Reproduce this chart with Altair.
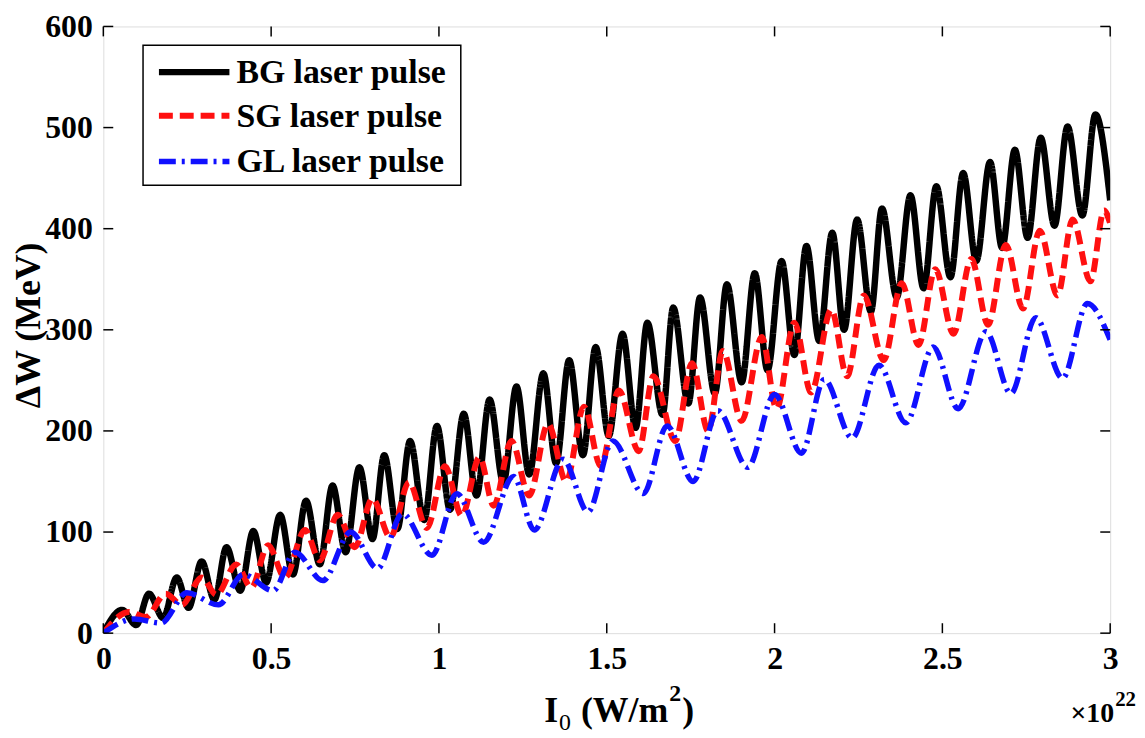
import altair as alt
import pandas as pd

# ---------------- data (x in 1e22 W/m^2, y in MeV) ----------------
# BG laser pulse (black, solid)
bg_peak_x = [0.056, 0.136, 0.219, 0.293, 0.367, 0.447, 0.527, 0.604, 0.683, 0.763,
             0.837, 0.914, 0.994, 1.074, 1.151, 1.231, 1.311, 1.388, 1.467, 1.547,
             1.621, 1.698, 1.778, 1.858, 1.941, 2.021, 2.095, 2.172, 2.246, 2.320,
             2.405, 2.482, 2.562, 2.642, 2.716, 2.793, 2.873, 2.956]
bg_peak_y = [23, 39, 55, 71, 85, 101, 117, 131, 146, 164,
             176, 190, 205, 217, 231, 244, 257, 270, 283, 296,
             307, 322, 332, 345, 356, 368, 383, 396, 409, 420,
             433, 442, 455, 466, 478, 490, 501, 513]
bg_trough_x = [0.098, 0.178, 0.254, 0.331, 0.408, 0.485, 0.565, 0.645, 0.722, 0.802,
               0.876, 0.956, 1.033, 1.112, 1.192, 1.269, 1.349, 1.429, 1.506, 1.586,
               1.666, 1.743, 1.822, 1.902, 1.979, 2.059, 2.133, 2.207, 2.287, 2.364,
               2.444, 2.524, 2.601, 2.678, 2.754, 2.834, 2.917]
bg_trough_y = [8, 15, 25, 33, 42, 50, 58, 68, 80, 93,
               103, 112, 122, 136, 149, 157, 168, 176, 195, 203,
               216, 227, 237, 248, 260, 275, 289, 300, 318, 332,
               341, 352, 368, 381, 391, 403, 413]
bg_ends_x = [0.0, 3.0]
bg_ends_y = [0, 428]

# SG laser pulse (red, dashed)
sg_peak_x = [0.077, 0.186, 0.293, 0.396, 0.491, 0.601, 0.698, 0.802, 0.911, 1.018,
             1.121, 1.216, 1.325, 1.432, 1.536, 1.639, 1.754, 1.846, 1.962, 2.059,
             2.169, 2.266, 2.379, 2.479, 2.586, 2.689, 2.790, 2.888, 2.982]
sg_peak_y = [21, 39, 55, 68, 87, 102, 117, 133, 149, 165,
             174, 190, 207, 224, 240, 254, 267, 279, 293, 307,
             320, 334, 346, 360, 370, 384, 398, 409, 418]
sg_trough_x = [0.127, 0.234, 0.337, 0.441, 0.541, 0.645, 0.749, 0.855, 0.964, 1.068,
               1.163, 1.269, 1.379, 1.482, 1.595, 1.704, 1.802, 1.902, 2.006, 2.109,
               2.216, 2.325, 2.429, 2.533, 2.636, 2.740, 2.843, 2.941]
sg_trough_y = [16, 28, 38, 45, 55, 72, 85, 95, 104, 116,
               126, 136, 150, 165, 180, 190, 200, 210, 222, 238,
               254, 270, 285, 296, 305, 321, 334, 348]
sg_ends_x = [0.0, 3.0]
sg_ends_y = [0, 405]

# GL laser pulse (blue, dash-dot)
gl_peak_x = [0.092, 0.249, 0.417, 0.571, 0.737, 0.891, 1.053, 1.222, 1.370, 1.518,
             1.680, 1.831, 2.000, 2.148, 2.311, 2.473, 2.630, 2.778, 2.932]
gl_peak_y = [14, 40, 58, 80, 100, 118, 138, 155, 172, 190,
             205, 220, 236, 251, 265, 283, 298, 312, 326]
gl_trough_x = [0.172, 0.343, 0.506, 0.654, 0.817, 0.979, 1.133, 1.284, 1.444, 1.609,
               1.757, 1.920, 2.080, 2.231, 2.391, 2.547, 2.704, 2.858]
gl_trough_y = [10, 28, 42, 52, 64, 77, 90, 102, 120, 138,
               150, 164, 178, 193, 208, 222, 237, 252]
gl_ends_x = [0.0, 3.0]
gl_ends_y = [0, 290]

x_ticks = [0, 0.5, 1, 1.5, 2, 2.5, 3]
y_ticks = [0, 100, 200, 300, 400, 500, 600]
legend_labels = ["BG laser pulse", "SG laser pulse", "GL laser pulse"]

# ---------------- styling ----------------
W, H = 1014, 611
FONT = "Liberation Serif"
colors = ["#000000", "#ff1010", "#1010ff"]
dashes = [[1, 0], [14, 7], [17, 6, 3, 6]]
widths = [6.5, 6, 5.5]


def series_df(px, py, tx, ty, ex, ey):
    df = pd.DataFrame({"x": ex + px + tx, "y": ey + py + ty})
    return df.sort_values("x").reset_index(drop=True)


frames = [
    series_df(bg_peak_x, bg_peak_y, bg_trough_x, bg_trough_y, bg_ends_x, bg_ends_y),
    series_df(sg_peak_x, sg_peak_y, sg_trough_x, sg_trough_y, sg_ends_x, sg_ends_y),
    series_df(gl_peak_x, gl_peak_y, gl_trough_x, gl_trough_y, gl_ends_x, gl_ends_y),
]

xscale = alt.Scale(domain=[0, 3], nice=False, zero=False)
yscale = alt.Scale(domain=[0, 600], nice=False, zero=False)
xaxis = alt.Axis(values=x_ticks, title=None, ticks=False, domain=False, grid=False,
                 format=".1~f",
                 labelFont=FONT, labelFontSize=32, labelFontWeight="bold",
                 labelColor="black", labelPadding=11, labelFlush=False,
                 labelOverlap=False)
yaxis = alt.Axis(values=y_ticks, title=None, ticks=False, domain=False, grid=False,
                 labelFont=FONT, labelFontSize=32, labelFontWeight="bold",
                 labelColor="black", labelPadding=11, labelOverlap=False)

layers = []
for df, c, d, w in zip(frames, colors, dashes, widths):
    layers.append(
        alt.Chart(df).mark_line(color=c, strokeDash=d, strokeWidth=w,
                                interpolate="monotone", clip=True,
                                strokeCap="butt")
        .encode(x=alt.X("x:Q", scale=xscale, axis=xaxis),
                y=alt.Y("y:Q", scale=yscale, axis=yaxis))
    )

# inward ticks on all four sides
xt = pd.DataFrame({"x": x_ticks})
yt = pd.DataFrame({"y": y_ticks})
tick_x_bottom = alt.Chart(xt).mark_rule(color="black", strokeWidth=1.5).encode(
    x=alt.X("x:Q", scale=xscale, axis=xaxis), y=alt.value(H), y2=alt.value(H - 10))
tick_x_top = alt.Chart(xt).mark_rule(color="black", strokeWidth=1.5).encode(
    x=alt.X("x:Q", scale=xscale, axis=xaxis), y=alt.value(0), y2=alt.value(10))
tick_y_left = alt.Chart(yt).mark_rule(color="black", strokeWidth=1.5).encode(
    y=alt.Y("y:Q", scale=yscale, axis=yaxis), x=alt.value(0), x2=alt.value(10))
tick_y_right = alt.Chart(yt).mark_rule(color="black", strokeWidth=1.5).encode(
    y=alt.Y("y:Q", scale=yscale, axis=yaxis), x=alt.value(W), x2=alt.value(W - 10))

# legend (drawn manually, MATLAB style)
one = pd.DataFrame({"k": [0]})
legend_box = alt.Chart(one).mark_rect(fill="white", stroke="black", strokeWidth=1.5).encode(
    x=alt.value(40), x2=alt.value(360), y=alt.value(19), y2=alt.value(160))
legend_layers = [legend_box]
row_y = [46, 90, 136]
for lab, c, d, w, ry in zip(legend_labels, colors, dashes, widths, row_y):
    ldf = pd.DataFrame({"label": [lab]})
    legend_layers.append(
        alt.Chart(ldf).mark_rule(color=c, strokeDash=d, strokeWidth=w, strokeCap="butt").encode(
            x=alt.value(56), x2=alt.value(127), y=alt.value(ry)))
    legend_layers.append(
        alt.Chart(ldf).mark_text(font=FONT, fontSize=34, fontWeight="bold", color="black",
                                 align="left", baseline="middle").encode(
            x=alt.value(134), y=alt.value(ry + 1), text="label:N"))


# axis titles
def txt(s, x, y, size, angle=0, align="left", baseline="alphabetic", weight="bold"):
    return alt.Chart(pd.DataFrame({"t": [s]})).mark_text(
        font=FONT, fontSize=size, fontWeight=weight, color="black", align=align,
        baseline=baseline, angle=angle).encode(x=alt.value(x), y=alt.value(y), text="t:N")


titles = [
    txt("\u0394W (MeV)", -75, 301, 36, angle=270, align="center", baseline="middle"),
    txt("I", 444, 700, 36),
    txt("0", 459, 709, 24, weight="normal"),
    txt("(W/m", 481, 700, 36),
    txt("2", 570, 679, 24),
    txt(")", 583, 700, 36),
    txt("\u00d710", 974, 700, 28),
    txt("22", 1019, 684, 21),
]

chart = alt.layer(
    *layers, tick_x_bottom, tick_x_top, tick_y_left, tick_y_right,
    *legend_layers, *titles
).properties(
    width=W, height=H,
    padding={"left": 96, "top": 16, "right": 27, "bottom": 103},
    autosize=alt.AutoSizeParams(type="none"),
).configure_view(stroke="black", strokeWidth=2).configure(background="white")

chart.save("out.html", embed_options={"renderer": "svg", "actions": False})
